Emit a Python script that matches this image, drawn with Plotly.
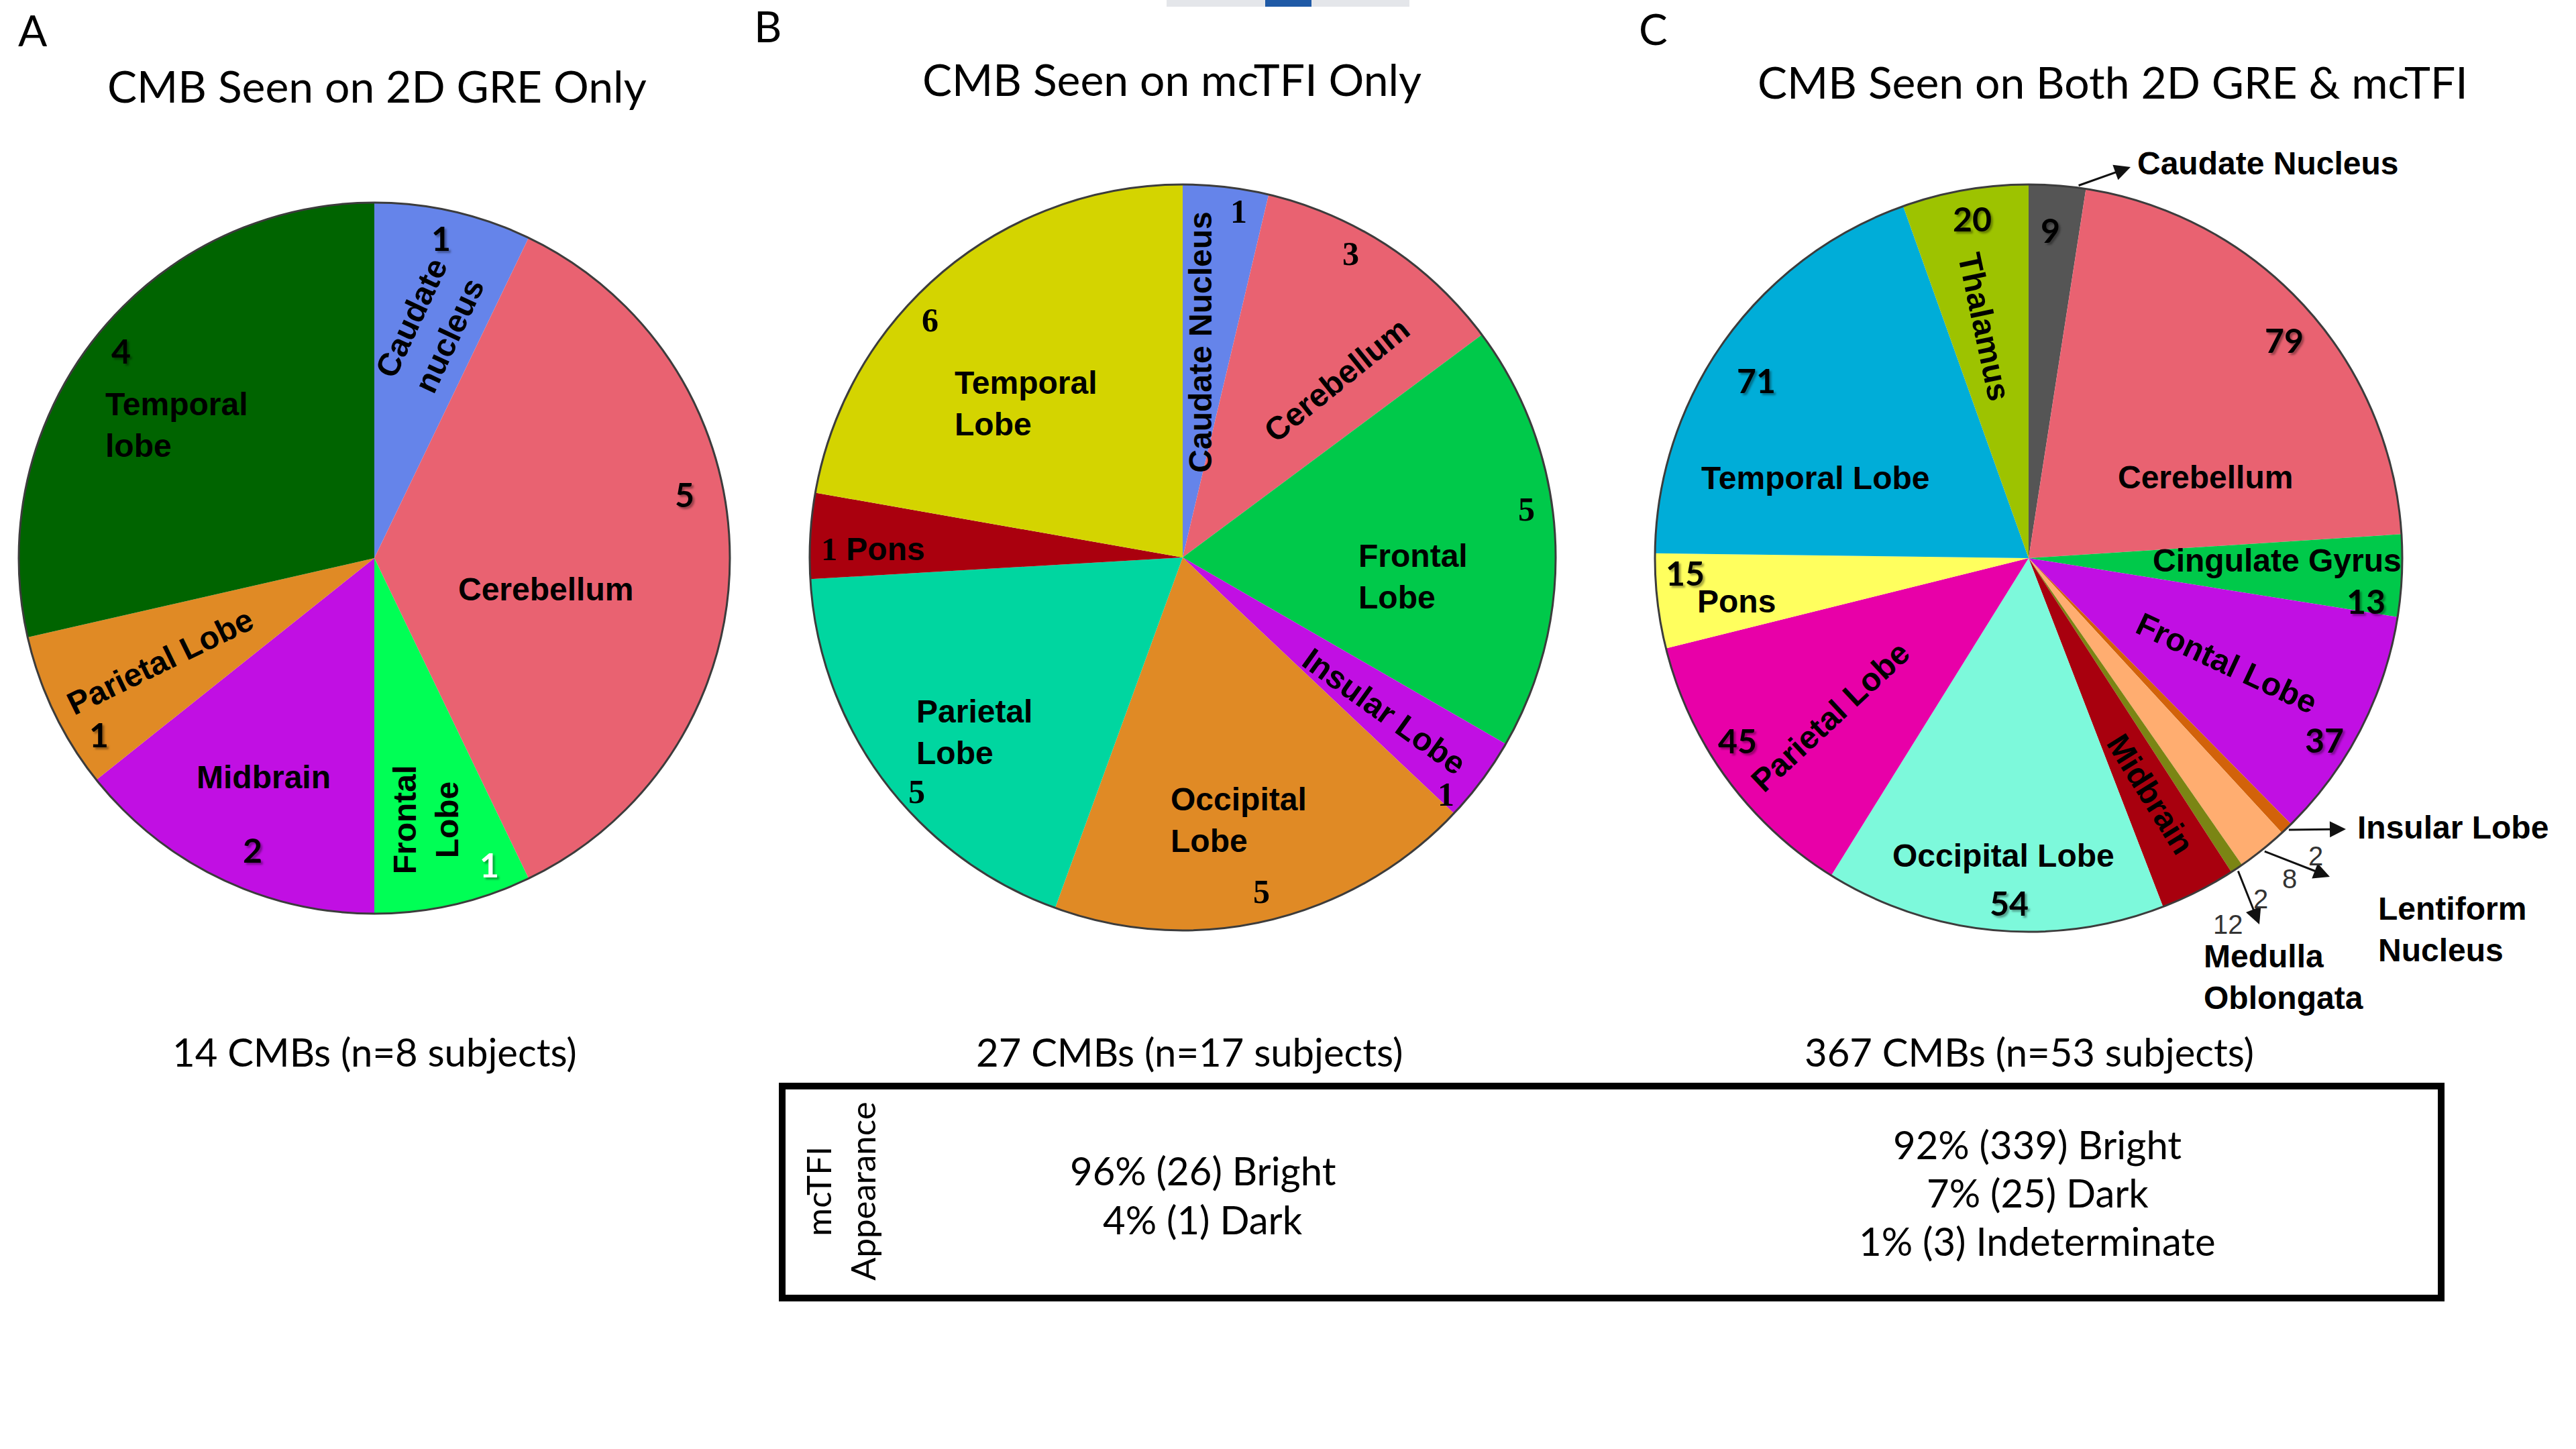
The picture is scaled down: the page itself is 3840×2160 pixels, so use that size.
import math
import plotly.graph_objects as go

W, H = 3840, 2160

# ---------------- data ----------------
panel_letters = ["A", "B", "C"]
titles = ["CMB Seen on 2D GRE Only", "CMB Seen on mcTFI Only", "CMB Seen on Both 2D GRE & mcTFI"]
subjects = [8, 17, 53]

a_regions = ["Caudate nucleus", "Cerebellum", "Frontal Lobe", "Midbrain", "Parietal Lobe", "Temporal lobe"]
a_counts = [1, 5, 1, 2, 1, 4]
a_colors = ["#6584EA", "#E96271", "#00FF55", "#C10FE3", "#E08A25", "#006400"]

b_regions = ["Caudate Nucleus", "Cerebellum", "Frontal Lobe", "Insular Lobe", "Occipital Lobe",
             "Parietal Lobe", "Pons", "Temporal Lobe"]
b_counts = [1, 3, 5, 1, 5, 5, 1, 6]
b_colors = ["#6584EA", "#E96271", "#00C94A", "#C10FE3", "#E08A25", "#00D6A0", "#AA000E", "#D4D400"]

c_regions = ["Caudate Nucleus", "Cerebellum", "Cingulate Gyrus", "Frontal Lobe", "Insular Lobe",
             "Lentiform Nucleus", "Medulla Oblongata", "Midbrain", "Occipital Lobe", "Parietal Lobe",
             "Pons", "Temporal Lobe", "Thalamus"]
c_counts = [9, 79, 13, 37, 2, 8, 2, 12, 54, 45, 15, 71, 20]
c_colors = ["#555555", "#E96271", "#00C94A", "#C10FE3", "#D2620A", "#FFAD70", "#7B8514",
            "#A8000E", "#7DF9DB", "#E800A8", "#FFFF5E", "#00ADD8", "#9DC300"]

appear_b_labels = ["Bright", "Dark"]
appear_b_counts = [26, 1]
appear_c_labels = ["Bright", "Dark", "Indeterminate"]
appear_c_counts = [339, 25, 3]

# ---------------- helpers ----------------
def fx(x):
    return x / W


def fy(y):
    return 1 - y / H


SANS = "Liberation Sans"
CAL = "Lato"
SERIF = "Liberation Serif"

fig = go.Figure()
annotations = []
shapes = []


def text(x, y, s, size, family=CAL, color="black", weight="normal", angle=0,
         align="center", xanchor="center", yanchor="middle", shadow=None):
    f = dict(size=size, family=family, color=color, weight=weight)
    if shadow:
        f["shadow"] = shadow
    annotations.append(dict(x=fx(x), y=fy(y), xref="paper", yref="paper", text=s, showarrow=False,
                            font=f, textangle=angle, align=align, xanchor=xanchor, yanchor=yanchor))


def slice_theta(counts, idx, t):
    tot = sum(counts)
    start = sum(counts[:idx]) / tot * 360.0
    return start + t * counts[idx] / tot * 360.0


def polar(p, theta, rf):
    th = math.radians(theta)
    return p["cx"] + rf * p["r"] * math.sin(th), p["cy"] - rf * p["r"] * math.cos(th)


pies = [
    dict(regions=a_regions, counts=a_counts, colors=a_colors, cx=558, cy=832, r=530),
    dict(regions=b_regions, counts=b_counts, colors=b_colors, cx=1763, cy=831, r=556),
    dict(regions=c_regions, counts=c_counts, colors=c_colors, cx=3024, cy=832, r=557),
]

for p in pies:
    cx, cy, r = p["cx"], p["cy"], p["r"]
    fig.add_trace(go.Pie(
        labels=p["regions"], values=p["counts"], sort=False, direction="clockwise", rotation=0,
        marker=dict(colors=p["colors"], line=dict(width=0)), textinfo="none",
        hoverinfo="label+value", showlegend=False,
        domain=dict(x=[fx(cx - r), fx(cx + r)], y=[fy(cy + r), fy(cy - r)]),
    ))
    shapes.append(dict(type="circle", xref="paper", yref="paper",
                       x0=fx(cx - r), x1=fx(cx + r), y0=fy(cy + r), y1=fy(cy - r),
                       line=dict(color="#3c3c3c", width=3)))

# display names with line breaks
display = {
    "Caudate nucleus": "Caudate<br>nucleus",
    "Temporal lobe": "Temporal<br>lobe",
    "Frontal Lobe": "Frontal<br>Lobe",
}

NAME_SIZE = 48
NUM_SIZE = 50
SH = "3px 3px 3px rgba(0,0,0,0.35)"

# label specs: (slice index, t within slice, radius fraction, kind, angle, align, color)
a_specs = [
    (0, .46, .92, "num", 0, "center", "black"),
    (0, .53, .67, "name", -65, "center", "black"),
    (1, .58, .49, "name", 0, "center", "black"),
    (1, .41, .89, "num", 0, "center", "black"),
    (2, .57, .75, "name", -90, "center", "black"),
    (2, .20, .92, "num", 0, "center", "white"),
    (3, .52, .69, "name", 0, "center", "black"),
    (3, .44, .89, "num", 0, "center", "black"),
    (4, .50, .67, "pname", -26, "center", "black"),
    (4, .23, .92, "num", 0, "center", "black"),
    (5, .455, .67, "name", 0, "left", "black"),
    (5, .507, .92, "num", 0, "center", "black"),
]
b_specs = [
    (0, .69, .94, "num", 0, "center", "black"),
    (0, .36, .58, "name", -90, "center", "black"),
    (1, .39, .93, "num", 0, "center", "black"),
    (1, .69, .63, "name", -39, "center", "black"),
    (2, .43, .93, "num", 0, "center", "black"),
    (2, .62, .62, "name", 0, "left", "black"),
    (3, .55, .68, "name", 35.6, "center", "black"),
    (3, .90, .95, "num", 0, "center", "black"),
    (4, .52, .72, "name2", 0, "left", "black"),
    (4, .50, .92, "num", 0, "center", "black"),
    (5, .45, .73, "name2", 0, "left", "black"),
    (5, .43, .95, "num", 0, "center", "black"),
    (6, .37, .83, "numname", 0, "left", "black"),
    (7, .43, .59, "name2", 0, "left", "black"),
    (7, .415, .93, "num", 0, "center", "black"),
]
c_specs = [
    (0, .43, .88, "num", 0, "center", "black"),
    (1, .525, .90, "num", 0, "center", "black"),
    (1, .729, .52, "name", 0, "center", "black"),
    (2, .33, .665, "name", 0, "center", "black"),
    (2, .86, .91, "num", 0, "center", "black"),
    (3, .52, .60, "pname", 25, "center", "black"),
    (3, .62, .93, "num", 0, "center", "black"),
    (7, .47, .71, "name", 58, "center", "black"),
    (8, .49, .80, "name", 0, "center", "black"),
    (8, .46, .925, "num", 0, "center", "black"),
    (9, .44, .68, "name", -43, "center", "black"),
    (9, .59, .92, "num", 0, "center", "black"),
    (10, .78, .92, "num", 0, "center", "black"),
    (10, .38, .79, "name", 0, "center", "black"),
    (11, .465, .87, "num", 0, "center", "black"),
    (11, .284, .61, "name", 0, "center", "black"),
    (12, .52, .92, "num", 0, "center", "black"),
    (12, .45, .63, "name", 78, "center", "black"),
]

num_fonts = [CAL, SERIF, CAL]
for k, (p, specs) in enumerate(zip(pies, [a_specs, b_specs, c_specs])):
    for idx, t, rf, kind, ang, align, col in specs:
        th = slice_theta(p["counts"], idx, t)
        x, y = polar(p, th, rf)
        name = p["regions"][idx]
        if kind == "num":
            text(x, y, str(p["counts"][idx]), NUM_SIZE, num_fonts[k], col, "bold",
                 shadow=(SH if k != 1 else None))
        elif kind == "numname":
            s = "<span style='font-family:Liberation Serif'>%d</span> %s" % (p["counts"][idx], name)
            text(x, y, s, NAME_SIZE, SANS, col, "bold")
        elif kind == "name2":
            text(x, y, name.replace(" ", "<br>"), NAME_SIZE, SANS, col, "bold", ang, align)
        elif kind == "pname":
            text(x, y, name, NAME_SIZE, SANS, col, "bold", ang, align)
        else:
            if k == 0:
                s = display.get(name, name)
            elif k == 1 and idx == 2:
                s = "Frontal<br>Lobe"
            else:
                s = name
            text(x, y, s, NAME_SIZE, SANS, col, "bold", ang, align)

# ---------------- callouts for small slices in C ----------------
pc = pies[2]
callouts = [
    # (slice idx, t, arrow head px)
    (0, 0.85, (3176, 249)),
    (4, 0.5, (3497, 1236)),
    (5, 0.5, (3473, 1307)),
    (6, 0.5, (3368, 1378)),
]
for idx, t, (hx, hy) in callouts:
    th = slice_theta(pc["counts"], idx, t)
    tx, ty = polar(pc, th, 1.005)
    annotations.append(dict(x=fx(hx), y=fy(hy), xref="paper", yref="paper", text="",
                            showarrow=True, arrowhead=2, arrowsize=1.6, arrowwidth=3,
                            arrowcolor="#111111", ax=tx - hx, ay=ty - hy, standoff=0,
                            startstandoff=0))

text(3184, 243, "Caudate Nucleus", NAME_SIZE, SANS, "black", "bold", xanchor="left")
text(3512, 1233, "Insular Lobe", NAME_SIZE, SANS, "black", "bold", xanchor="left")
text(3543, 1385, "Lentiform<br>Nucleus", NAME_SIZE, SANS, "black", "bold", xanchor="left", align="left")
text(3283, 1456, "Medulla<br>Oblongata", NAME_SIZE, SANS, "black", "bold", xanchor="left", align="left")
SMALL = 40
text(3452, 1276, str(c_counts[4]), SMALL, SANS, "#333333")
text(3413, 1310, str(c_counts[5]), SMALL, SANS, "#333333")
text(3370, 1340, str(c_counts[6]), SMALL, SANS, "#333333")
text(3321, 1378, str(c_counts[7]), SMALL, SANS, "#333333")

# ---------------- titles, letters, totals ----------------
letter_pos = [(49, 44), (1144, 38), (2464, 42)]
title_pos = [(562, 127), (1747, 118), (3149, 122)]
total_pos = [(558, 1567), (1773, 1567), (3025, 1567)]
totals = [sum(a_counts), sum(b_counts), sum(c_counts)]
for i in range(3):
    text(*letter_pos[i], panel_letters[i], 64, CAL)
    text(*title_pos[i], titles[i], 66, CAL)
    text(*total_pos[i], "%d CMBs (n=%d subjects)" % (totals[i], subjects[i]), 58, CAL)

# ---------------- appearance box ----------------
shapes.append(dict(type="rect", xref="paper", yref="paper", x0=fx(1166), x1=fx(3639),
                   y0=fy(1935), y1=fy(1619), line=dict(color="black", width=10)))
text(1252, 1776, "mcTFI<br>Appearance", 51, CAL, angle=-90)


def appear_lines(labels, counts):
    tot = sum(counts)
    return ["%d%% (%d) %s" % (round(100 * c / tot), c, l) for l, c in zip(labels, counts)]


for i, s in enumerate(appear_lines(appear_b_labels, appear_b_counts)):
    text(1793, 1744 + i * 73, s, 58, CAL)
for i, s in enumerate(appear_lines(appear_c_labels, appear_c_counts)):
    text(3037, 1705 + i * 72, s, 58, CAL)

# small artifact bar at top center
shapes.append(dict(type="rect", xref="paper", yref="paper", x0=fx(1739), x1=fx(2101),
                   y0=fy(10), y1=fy(0), line=dict(width=0), fillcolor="#e4e6ea"))
shapes.append(dict(type="rect", xref="paper", yref="paper", x0=fx(1886), x1=fx(1955),
                   y0=fy(10), y1=fy(0), line=dict(width=0), fillcolor="#1f5aa6"))

fig.update_layout(
    width=W, height=H, margin=dict(l=0, r=0, t=0, b=0),
    paper_bgcolor="white", plot_bgcolor="white", showlegend=False,
    annotations=annotations, shapes=shapes,
)

fig.write_html("out.html", config={"displayModeBar": False},
               post_script="document.body.style.margin='0';")
